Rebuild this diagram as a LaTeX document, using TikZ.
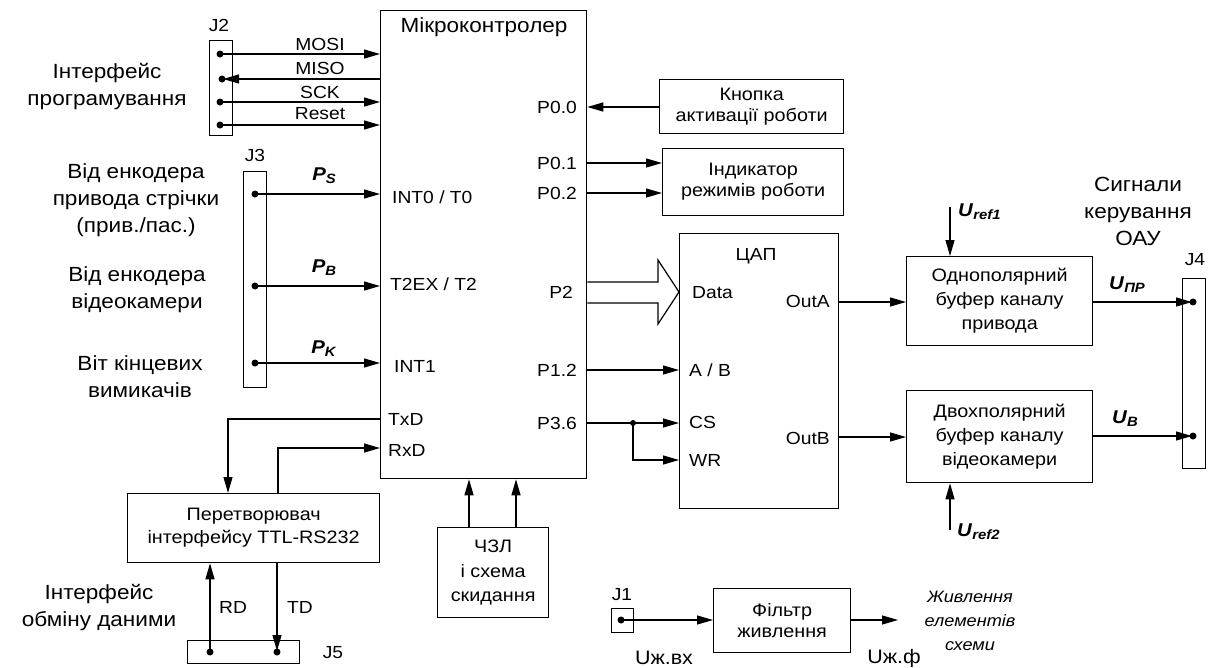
\documentclass[tikz,border=0pt]{standalone}
\usepackage{fontspec}
\setmainfont[FakeStretch=1.1]{Liberation Sans}
\usetikzlibrary{arrows.meta, calc, positioning}

\newcommand{\sigsub}[2]{\textbf{\textit{#1}}\raisebox{-0.3ex}{\fontsize{13.5}{14}\selectfont\textbf{\textit{#2}}}}

\begin{document}
\begin{tikzpicture}[
  x=1pt, y=-1pt,
  blk/.style={draw, line width=1.3pt, inner sep=0pt, anchor=north west,
    align=center, font=\fontsize{18}{21}\selectfont},
  big/.style={align=center, font=\fontsize{20.5}{27}\selectfont, inner sep=0pt},
  pin/.style={font=\fontsize{17.5}{21}\selectfont, inner sep=0pt},
  sig/.style={font=\fontsize{17.5}{20}\selectfont, inner sep=0pt},
  val/.style={font=\fontsize{18.5}{21}\selectfont, inner sep=0pt},
  arr/.style={-{Triangle[length=16pt,width=9pt]}, line width=1.2pt},
  wire/.style={line width=1.2pt},
  dot/.style={circle, fill, inner sep=0pt, minimum size=7pt},
]
\useasboundingbox (0,0) rectangle (1214,667);

%% ── Microcontroller ──────────────────────────────────────────────────────────
\node[blk, minimum width=206pt, minimum height=468pt] (MCU) at (380,10) {};
\node[pin, font=\fontsize{20.5}{24}\selectfont] (MCUt) at (484,27) {Мікроконтролер};

\node[pin, anchor=west] (pINT0) at (392,197) {INT0 / T0};
\node[pin, anchor=west] (pT2)   at (390,284) {T2EX / T2};
\node[pin, anchor=west] (pINT1) at (394,366) {INT1};
\node[pin, anchor=west] (pTxD)  at (388,419) {TxD};
\node[pin, anchor=west] (pRxD)  at (388,450) {RxD};
\node[pin, anchor=east] (p00) at (577,107) {P0.0};
\node[pin, anchor=east] (p01) at (577,163) {P0.1};
\node[pin, anchor=east] (p02) at (577,193) {P0.2};
\node[pin, anchor=east] (p2)  at (573,292) {P2};
\node[pin, anchor=east] (p12) at (577,370) {P1.2};
\node[pin, anchor=east] (p36) at (577,423) {P3.6};

%% ── Programming interface J2 ─────────────────────────────────────────────────
\node[big] (Lprog) at (107,87) {Інтерфейс\\програмування};
\node[blk, minimum width=23pt, minimum height=95pt] (J2) at (209,40) {};
\node[sig] (J2t) at (219,25) {J2};
\node[dot] (dMOSI)  at (220,54)  {};
\node[dot] (dMISO)  at (222,79)  {};
\node[dot] (dSCK)   at (220,102) {};
\node[dot] (dReset) at (220,125) {};
\draw[arr] (dMOSI.center) -- (dMOSI -| MCU.west);
\draw[arr, shorten >=1pt] (dMISO -| MCU.west) -- (dMISO.center);
\draw[arr] (dSCK.center) -- (dSCK -| MCU.west);
\draw[arr] (dReset.center) -- (dReset -| MCU.west);
\node[sig] (lMOSI)  at (320,44)  {MOSI};
\node[sig] (lMISO)  at (320,68)  {MISO};
\node[sig] (lSCK)   at (320,92)  {SCK};
\node[sig] (lReset) at (320,114) {Reset};

%% ── Encoder inputs J3 ────────────────────────────────────────────────────────
\node[big] (Lenc1) at (136,200) {Від енкодера\\привода стрічки\\(прив./пас.)};
\node[big] (Lenc2) at (137,290) {Від енкодера\\відеокамери};
\node[big] (Llim)  at (140,377) {Віт кінцевих\\вимикачів};
\node[blk, minimum width=23pt, minimum height=216pt] (J3) at (243,171) {};
\node[sig] (J3t) at (255,155) {J3};
\node[dot] (dPs) at (255,194) {};
\node[dot] (dPb) at (255,286) {};
\node[dot] (dPk) at (255,363) {};
\draw[arr] (dPs.center) -- (dPs -| MCU.west);
\draw[arr] (dPb.center) -- (dPb -| MCU.west);
\draw[arr] (dPk.center) -- (dPk -| MCU.west);
\node[val] (lPs) at (324,176) {\sigsub{P}{S}};
\node[val] (lPb) at (324,268) {\sigsub{P}{B}};
\node[val] (lPk) at (324,349) {\sigsub{P}{K}};

%% ── Button and indicator ─────────────────────────────────────────────────────
\node[blk, minimum width=184pt, minimum height=54pt] (BTN) at (659,79)
  {Кнопка\\активації роботи};
\node[blk, minimum width=181pt, minimum height=67pt] (IND) at (662,148)
  {Індикатор\\режимів роботи};
\draw[arr] (BTN.west |- 0,107) -- (MCU.east |- 0,107);
\draw[arr] (MCU.east |- 0,163) -- (IND.west |- 0,163);
\draw[arr] (MCU.east |- 0,193) -- (IND.west |- 0,193);

%% ── DAC ──────────────────────────────────────────────────────────────────────
\node[blk, minimum width=159pt, minimum height=275pt] (DAC) at (679,233) {};
\node[pin] (DACt) at (756,256) {ЦАП};
\node[pin, anchor=west] (dData) at (692,293) {Data};
\node[pin, anchor=west] (dAB)   at (689,370) {A / B};
\node[pin, anchor=west] (dCS)   at (689,422) {CS};
\node[pin, anchor=west] (dWR)   at (689,460) {WR};
\node[pin, anchor=east] (dOutA) at (830,301) {OutA};
\node[pin, anchor=east] (dOutB) at (830,438) {OutB};

\draw[wire, line join=miter] (MCU.east |- 0,282) -- (658,282) -- (658,260)
  -- (DAC.west |- 0,292) -- (658,324) -- (658,303) -- (MCU.east |- 0,303);
\draw[arr] (MCU.east |- 0,370) -- (DAC.west |- 0,370);
\draw[arr] (MCU.east |- 0,423) -- (DAC.west |- 0,423);
\node[dot, minimum size=6pt] (jCS) at (633,423) {};
\draw[arr] (jCS.center) |- (DAC.west |- 0,460);

%% ── Output buffers and J4 ────────────────────────────────────────────────────
\node[blk, minimum width=186pt, minimum height=89pt, font=\fontsize{18}{24}\selectfont]
  (BUF1) at (906,256) {Однополярний\\буфер каналу\\привода};
\node[blk, minimum width=186pt, minimum height=92pt, font=\fontsize{18}{24}\selectfont]
  (BUF2) at (906,390) {Двохполярний\\буфер каналу\\відеокамери};
\draw[arr] (DAC.east |- 0,302) -- (BUF1.west |- 0,302);
\draw[arr] (DAC.east |- 0,437) -- (BUF2.west |- 0,437);

\coordinate (uref1) at (950,207);
\coordinate (uref2) at (950,530);
\draw[arr] (uref1) -- (uref1 |- BUF1.north);
\draw[arr] (uref2) -- (uref2 |- BUF2.south);
\node[val, anchor=west] (lUr1) at (958,212) {\sigsub{U}{ref1}};
\node[val, anchor=west] (lUr2) at (957,532) {\sigsub{U}{ref2}};

\node[big] (Loau) at (1138,211) {Сигнали\\керування\\ОАУ};
\node[blk, minimum width=23pt, minimum height=190pt] (J4) at (1182,278) {};
\node[sig] (J4t) at (1195,260) {J4};
\node[dot] (dUpr) at (1193,302) {};
\node[dot] (dUb)  at (1193,436) {};
\draw[arr, shorten >=1pt] (BUF1.east |- dUpr) -- (dUpr.center);
\draw[arr, shorten >=1pt] (BUF2.east |- dUb) -- (dUb.center);
\node[val] (lUpr) at (1127,285) {\sigsub{U}{ПР}};
\node[val] (lUb)  at (1125,419) {\sigsub{U}{B}};

%% ── Serial interface ─────────────────────────────────────────────────────────
\node[blk, minimum width=252pt, minimum height=69pt, font=\fontsize{18}{23}\selectfont]
  (CONV) at (127,493) {Перетворювач\\інтерфейсу TTL-RS232};
\draw[arr] (MCU.west |- 0,419) -| (CONV.north -| 228,0);
\draw[arr] (CONV.north -| 278,0) |- (MCU.west |- 0,448);

\node[big] (Ldata) at (99,608) {Інтерфейс\\обміну даними};
\node[blk, minimum width=112pt, minimum height=23pt] (J5) at (187,640) {};
\node[sig] (J5t) at (333,653) {J5};
\node[dot] (dRD) at (210,652) {};
\node[dot] (dTD) at (277,652) {};
\draw[arr] (dRD.center) -- (dRD |- CONV.south);
\draw[arr, shorten >=1pt] (CONV.south -| dTD) -- (dTD.center);
\node[pin] (lRD) at (233,607) {RD};
\node[pin] (lTD) at (300,607) {TD};

%% ── Clock and reset ──────────────────────────────────────────────────────────
\node[blk, minimum width=111pt, minimum height=90pt, font=\fontsize{18}{24.5}\selectfont]
  (CLK) at (437,527) {ЧЗЛ\\і схема\\скидання};
\draw[arr] (CLK.north -| 469,0) -- (MCU.south -| 469,0);
\draw[arr] (CLK.north -| 516,0) -- (MCU.south -| 516,0);

%% ── Power supply ─────────────────────────────────────────────────────────────
\node[blk, minimum width=22pt, minimum height=24pt] (J1) at (611,608) {};
\node[sig] (J1t) at (622,595) {J1};
\node[dot] (dJ1) at (621,620) {};
\node[blk, minimum width=137pt, minimum height=64pt] (FLT) at (713,588)
  {Фільтр\\живлення};
\draw[arr] (dJ1.center) -- (FLT.west |- dJ1);
\coordinate (pwr) at (898,620);
\draw[arr] (FLT.east |- pwr) -- (pwr);
\node[pin, font=\fontsize{19.5}{21}\selectfont] (lUin)  at (664,658) {Uж.вх};
\node[pin, font=\fontsize{19.5}{21}\selectfont] (lUout) at (894,658) {Uж.ф};
\node[pin, align=center, font=\fontsize{16.5}{24}\selectfont\itshape] (Lpwr) at (970,621)
  {Живлення\\елементів\\схеми};

\end{tikzpicture}
\end{document}
